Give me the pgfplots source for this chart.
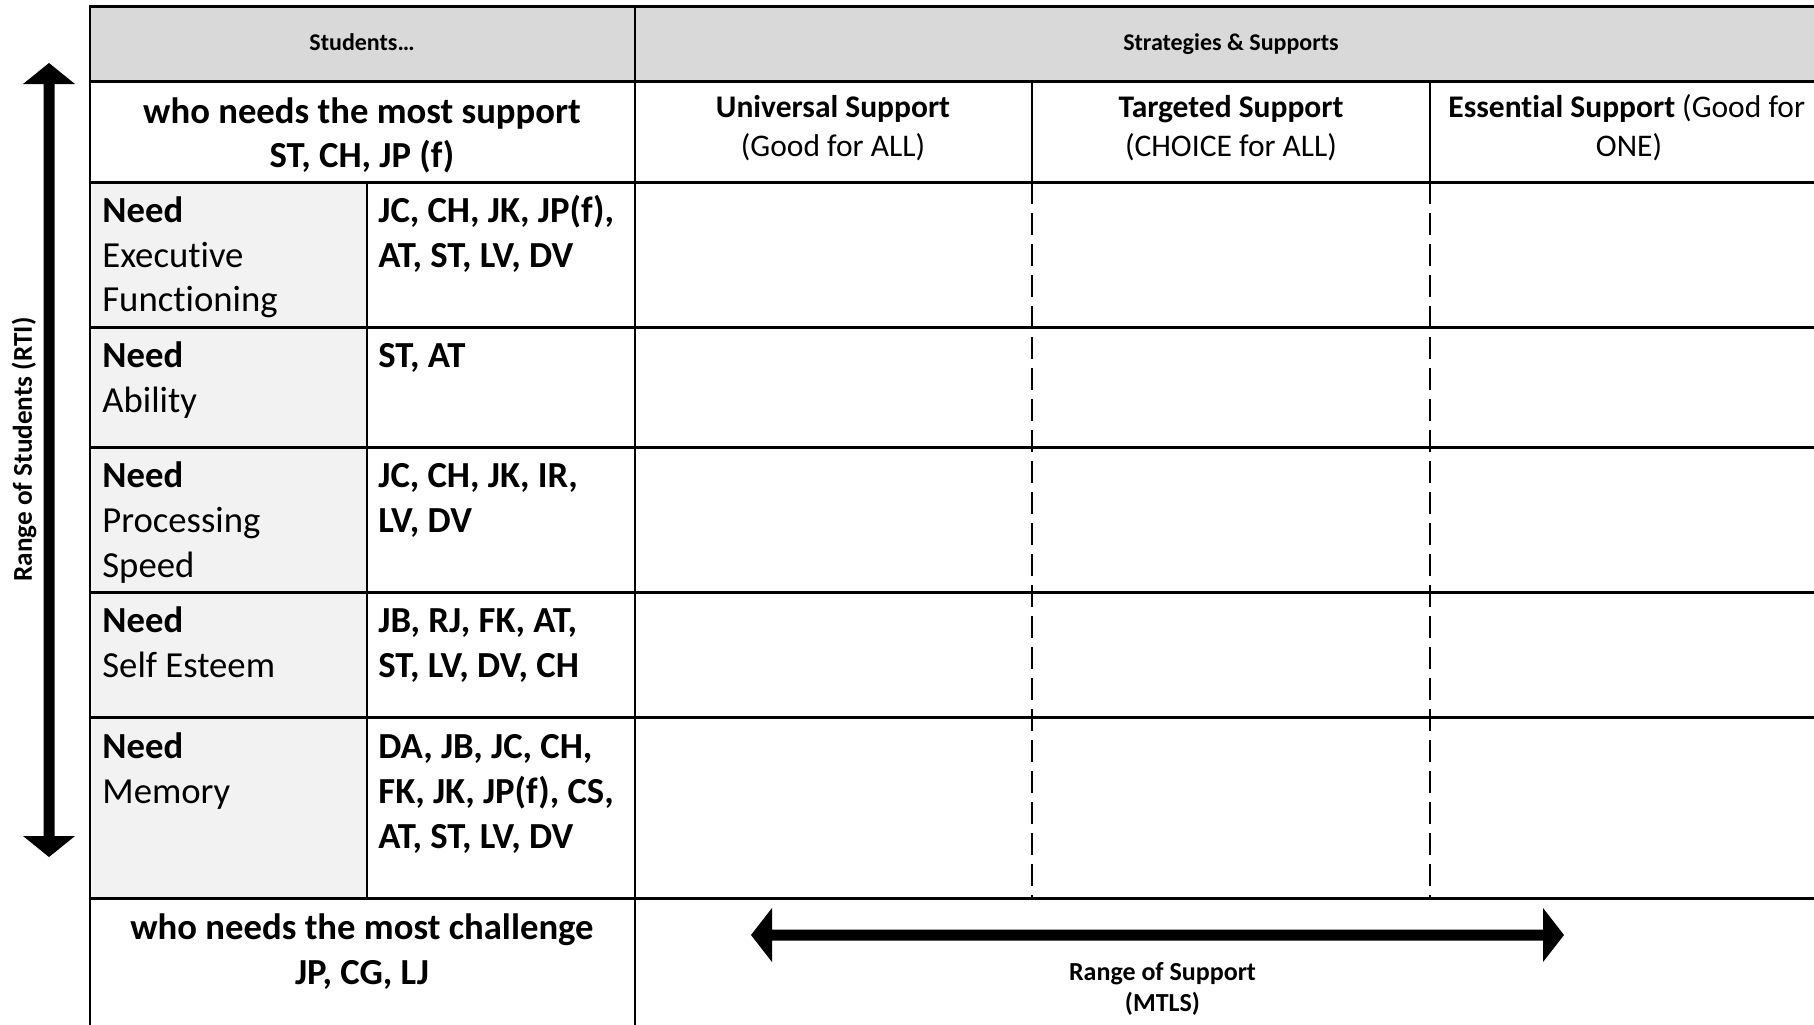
\documentclass[border=0pt]{standalone}
\usepackage{pgfplots}
\pgfplotsset{compat=1.18}
\usepackage{fontspec}
\setmainfont{Carlito}[RawFeature={-liga}]
\definecolor{hdr}{HTML}{D9D9D9}
\definecolor{cellg}{HTML}{F2F2F2}
\newcommand{\fa}{\fontsize{18.35pt}{22.25pt}\selectfont}
\newcommand{\fb}{\fontsize{15.75pt}{19.5pt}\selectfont}
\newcommand{\fc}{\fontsize{12pt}{14.5pt}\selectfont}
\newcommand{\fd}{\fontsize{13pt}{15pt}\selectfont}
\newcommand{\fe}{\fontsize{13.6pt}{16pt}\selectfont}
\begin{document}
\begin{tikzpicture}
\begin{axis}[width=907pt, height=512pt, scale only axis,
  xmin=0, xmax=1814, ymin=0, ymax=1024, y dir=reverse,
  axis lines=none, ticks=none, clip=false]
% fills
\addplot[fill=hdr, draw=none] coordinates {(90,6)(1830,6)(1830,81)(90,81)(90,6)};
\addplot[fill=cellg, draw=none] coordinates {(90,182)(367,182)(367,898)(90,898)(90,182)};
% horizontal lines
\addplot[black, line width=1.5pt] coordinates {(89,6)(1830,6)};
\addplot[black, line width=1.5pt] coordinates {(89,81)(1830,81)};
\addplot[black, line width=1.5pt] coordinates {(89,182)(1830,182)};
\addplot[black, line width=1.5pt] coordinates {(89,327.5)(1830,327.5)};
\addplot[black, line width=1.5pt] coordinates {(89,447)(1830,447)};
\addplot[black, line width=1.5pt] coordinates {(89,592)(1830,592)};
\addplot[black, line width=1.5pt] coordinates {(89,717.5)(1830,717.5)};
\addplot[black, line width=1.5pt] coordinates {(89,898.5)(1830,898.5)};
% vertical lines
\addplot[black, line width=1.2pt] coordinates {(90,6)(90,1030)};
\addplot[black, line width=1.2pt] coordinates {(635,6)(635,1030)};
\addplot[black, line width=1.2pt] coordinates {(367,182)(367,898)};
\addplot[black, line width=1.2pt] coordinates {(1032,81)(1032,182)};
\addplot[black, line width=1.2pt] coordinates {(1430,81)(1430,182)};
\addplot[black, line width=1pt, dash pattern=on 11pt off 4.5pt] coordinates {(1032,182)(1032,898)};
\addplot[black, line width=1pt, dash pattern=on 11pt off 4.5pt] coordinates {(1430,182)(1430,898)};
% arrows
\addplot[fill=black, draw=none] coordinates {(49,63)(75,84)(54.5,84)(54.5,836)(75,836)(49,857)(23,836)(43.5,836)(43.5,84)(23,84)(49,63)};
\addplot[fill=black, draw=none] coordinates {(751,935)(772,908)(772,929.5)(1543,929.5)(1543,908)(1564,935)(1543,962)(1543,940.5)(772,940.5)(772,962)(751,935)};
% header texts
\node[anchor=base, inner sep=0] at (axis cs:362,50.5) {\fc\bfseries Students…};
\node[anchor=base, inner sep=0] at (axis cs:1231,50.5) {\fc\bfseries Strategies \& Supports};
\node[anchor=base, inner sep=0] at (axis cs:362,123) {\fa\bfseries who needs the most support};
\node[anchor=base, inner sep=0] at (axis cs:362,167) {\fa\bfseries ST, CH, JP (f)};
\node[anchor=base, inner sep=0] at (axis cs:833,117) {\fb\bfseries Universal Support};
\node[anchor=base, inner sep=0] at (axis cs:833,156.5) {\fb (Good for ALL)};
\node[anchor=base, inner sep=0] at (axis cs:1231,117) {\fb\bfseries Targeted Support};
\node[anchor=base, inner sep=0] at (axis cs:1231,156.5) {\fb (CHOICE for ALL)};
\node[anchor=base west, inner sep=0] at (axis cs:1448,117) {\fb\textbf{Essential Support} (Good for};
\node[anchor=base, inner sep=0] at (axis cs:1629,156.5) {\fb ONE)};
% row: executive functioning
\node[anchor=base west, inner sep=0] at (axis cs:102,222.5) {\fa\bfseries Need};
\node[anchor=base west, inner sep=0] at (axis cs:102,267) {\fa Executive};
\node[anchor=base west, inner sep=0] at (axis cs:102,311.5) {\fa Functioning};
\node[anchor=base west, inner sep=0] at (axis cs:378,222.5) {\fa\bfseries JC, CH, JK, JP(f),};
\node[anchor=base west, inner sep=0] at (axis cs:378,267) {\fa\bfseries AT, ST, LV, DV};
% row: ability
\node[anchor=base west, inner sep=0] at (axis cs:102,367) {\fa\bfseries Need};
\node[anchor=base west, inner sep=0] at (axis cs:102,412) {\fa Ability};
\node[anchor=base west, inner sep=0] at (axis cs:378,367) {\fa\bfseries ST, AT};
% row: processing speed
\node[anchor=base west, inner sep=0] at (axis cs:102,487.5) {\fa\bfseries Need};
\node[anchor=base west, inner sep=0] at (axis cs:102,532.5) {\fa Processing};
\node[anchor=base west, inner sep=0] at (axis cs:102,577.5) {\fa Speed};
\node[anchor=base west, inner sep=0] at (axis cs:378,487.5) {\fa\bfseries JC, CH, JK, IR,};
\node[anchor=base west, inner sep=0] at (axis cs:378,532.5) {\fa\bfseries LV, DV};
% row: self esteem
\node[anchor=base west, inner sep=0] at (axis cs:102,632) {\fa\bfseries Need};
\node[anchor=base west, inner sep=0] at (axis cs:102,677) {\fa Self Esteem};
\node[anchor=base west, inner sep=0] at (axis cs:378,632) {\fa\bfseries JB, RJ, FK, AT,};
\node[anchor=base west, inner sep=0] at (axis cs:378,677) {\fa\bfseries ST, LV, DV, CH};
% row: memory
\node[anchor=base west, inner sep=0] at (axis cs:102,758) {\fa\bfseries Need};
\node[anchor=base west, inner sep=0] at (axis cs:102,803) {\fa Memory};
\node[anchor=base west, inner sep=0] at (axis cs:378,758) {\fa\bfseries DA, JB, JC, CH,};
\node[anchor=base west, inner sep=0] at (axis cs:378,803) {\fa\bfseries FK, JK, JP(f), CS,};
\node[anchor=base west, inner sep=0] at (axis cs:378,848) {\fa\bfseries AT, ST, LV, DV};
% bottom row
\node[anchor=base, inner sep=0] at (axis cs:362,939) {\fa\bfseries who needs the most challenge};
\node[anchor=base, inner sep=0] at (axis cs:362,984) {\fa\bfseries JP, CG, LJ};
\node[anchor=base, inner sep=0] at (axis cs:1162.5,980) {\fd\bfseries Range of Support};
\node[anchor=base, inner sep=0] at (axis cs:1162.5,1011) {\fd\bfseries (MTLS)};
% left label
\node[anchor=base, inner sep=0, rotate=90] at (axis cs:32,449.5) {\fe\bfseries Range of Students (RTI)};
\end{axis}
\pgfresetboundingbox
\useasboundingbox (0,0) rectangle (907pt,512pt);
\end{tikzpicture}
\end{document}
